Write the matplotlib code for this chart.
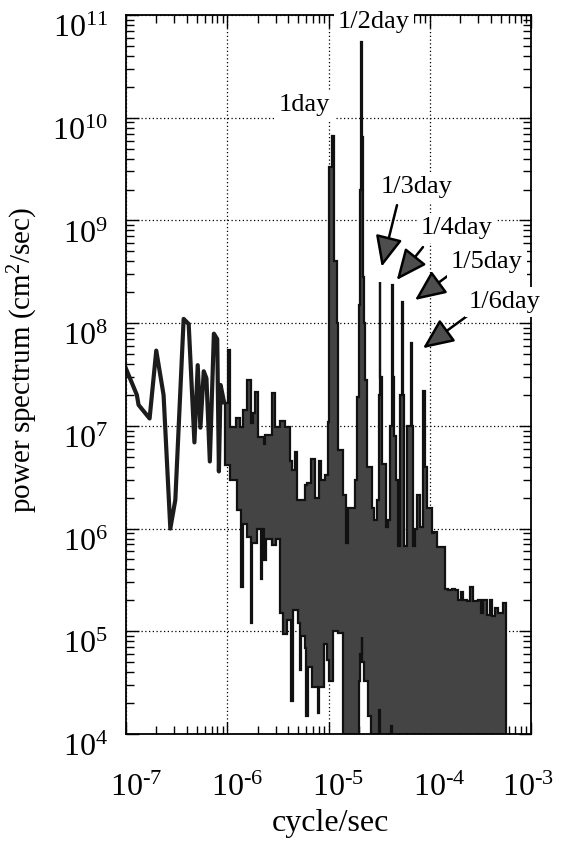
import numpy as np
import matplotlib
matplotlib.use("Agg")
import matplotlib.pyplot as plt
import matplotlib.transforms as mtransforms
from matplotlib.ticker import LogLocator, FuncFormatter, NullFormatter

# ====== data ======
# low frequency part: a single line
line_f = [1.0e-7, 1.28e-7, 1.33e-7, 1.71e-7, 1.99e-7, 2.35e-7, 2.74e-7, 3.07e-7,
          3.71e-7, 4.16e-7, 4.74e-7, 5.11e-7, 5.43e-7, 5.86e-7, 6.23e-7, 6.73e-7,
          7.38e-7, 7.96e-7, 8.27e-7, 8.59e-7, 9.3e-7]
line_p = [3.6e7, 2.0e7, 1.6e7, 1.18e7, 5.4e7, 2.0e7, 1.0e6, 1.9e6,
          1.1e8, 9.8e7, 6.9e6, 3.9e7, 9.6e6, 3.4e7, 2.9e7, 4.5e6,
          7.9e7, 7.0e7, 3.6e6, 2.5e7, 1.7e7]

# dense part, upper envelope (level starting at each frequency)
upper_f = [9.3e-7, 1.01e-6, 1.07e-6, 1.22e-6, 1.35e-6, 1.42e-6, 1.55e-6, 1.70e-6,
           1.80e-6, 1.89e-6, 2.01e-6, 2.29e-6, 2.38e-6, 2.77e-6, 2.94e-6, 3.34e-6,
           3.69e-6, 4.14e-6, 4.37e-6, 4.64e-6, 4.89e-6, 5.82e-6, 6.18e-6, 6.77e-6,
           7.30e-6, 8.00e-6, 8.50e-6, 9.16e-6, 9.80e-6, 1.00e-5, 1.02e-5, 1.09e-5,
           1.13e-5, 1.20e-5, 1.23e-5, 1.25e-5, 1.40e-5, 1.49e-5, 1.57e-5, 1.83e-5,
           1.93e-5, 2.00e-5, 2.05e-5, 2.09e-5, 2.13e-5, 2.18e-5, 2.22e-5, 2.30e-5,
           2.42e-5, 2.67e-5, 2.81e-5, 2.99e-5, 3.12e-5, 3.20e-5, 3.26e-5, 3.35e-5,
           3.70e-5, 3.90e-5, 4.05e-5, 4.22e-5, 4.28e-5, 4.34e-5, 4.45e-5, 4.60e-5,
           4.90e-5, 5.08e-5, 5.35e-5, 5.42e-5, 5.55e-5, 6.00e-5, 6.50e-5, 6.62e-5,
           6.78e-5, 7.15e-5, 7.50e-5, 8.01e-5, 8.50e-5, 9.00e-5, 9.46e-5, 1.045e-4,
           1.10e-4, 1.19e-4, 1.41e-4, 1.53e-4, 1.64e-4, 1.77e-4, 1.89e-4, 2.02e-4,
           2.15e-4, 2.32e-4, 2.50e-4, 2.65e-4, 3.02e-4, 3.18e-4, 3.38e-4, 3.65e-4,
           3.94e-4, 4.15e-4, 4.41e-4, 4.75e-4, 5.25e-4, 5.66e-4]
upper_p = [1.66e7, 5.5e7, 9.8e6, 1.18e7, 9.8e6, 1.43e7, 2.8e7, 1.06e7,
           1.32e7, 2.15e7, 7.8e6, 6.7e6, 8.1e6, 2.07e7, 9.8e6, 1.12e7,
           9.7e6, 4.5e6, 3.7e6, 5.6e6, 1.9e6, 2.65e6, 2.75e6, 4.8e6,
           2.0e6, 4.5e6, 3.0e6, 3.3e6, 1.1e7, 1.0e8, 3.3e9, 6.6e9,
           4.0e8, 1.0e8, 1.1e7, 5.8e6, 2.1e6, 7.2e5, 1.57e6, 2.97e6,
           1.9e7, 1.5e8, 2.0e9, 5.5e10, 6.5e9, 2.8e8, 1.0e8, 2.8e7,
           4.0e6, 1.6e6, 1.2e6, 1.9e6, 2.0e7, 2.5e8, 3.0e7, 4.3e6,
           1.04e6, 1.2e6, 1.0e7, 3.0e7, 2.35e8, 3.0e7, 8.0e6, 3.0e6,
           6.8e5, 2.0e7, 1.6e8, 2.0e7, 6.7e5, 1.0e7, 6.4e7, 1.0e7,
           6.7e5, 1.0e6, 2.1e6, 1.04e6, 2.2e7, 4.0e6, 1.6e6, 9.0e5,
           9.2e5, 6.6e5, 2.6e5, 2.5e5, 2.6e5, 2.5e5, 2.0e5, 2.4e5,
           2.0e5, 1.95e5, 2.7e5, 1.95e5, 2.0e5, 1.5e5, 2.0e5, 1.45e5,
           2.0e5, 1.4e5, 1.7e5, 1.5e5, 1.9e5, 1.9e5]

# dense part, lower envelope (1e3 = below the axis)
lower_f = [9.3e-7, 9.6e-7, 1.07e-6, 1.25e-6, 1.38e-6, 1.42e-6, 1.55e-6, 1.70e-6,
           1.75e-6, 1.95e-6, 2.14e-6, 2.20e-6, 2.32e-6, 2.40e-6, 2.75e-6, 3.05e-6,
           3.35e-6, 3.55e-6, 3.85e-6, 4.30e-6, 4.45e-6, 4.95e-6, 5.25e-6, 5.40e-6,
           5.85e-6, 6.05e-6, 6.25e-6, 6.90e-6, 7.80e-6, 8.10e-6, 9.00e-6, 9.60e-6,
           1.02e-5, 1.12e-5, 1.25e-5, 1.38e-5, 1.98e-5, 2.06e-5, 2.12e-5, 2.16e-5,
           2.25e-5, 2.45e-5, 2.60e-5, 3.18e-5, 3.24e-5, 4.18e-5, 4.24e-5, 5.66e-4]
lower_p = [1.7e7, 4.2e6, 3.0e6, 1.5e6, 2.7e5, 1.1e6, 8.3e5, 1.2e5,
           7.2e5, 1.0e6, 3.2e5, 1.0e6, 4.9e5, 8.0e5, 6.9e5, 8.0e5,
           1.5e5, 9.5e4, 1.3e5, 2.1e4, 1.6e5, 1.2e5, 4.2e4, 9.0e4,
           6.9e4, 1.5e4, 4.5e4, 2.9e4, 1.6e4, 2.9e4, 7.6e4, 5.2e4,
           3.3e4, 1.0e5, 9.6e4, 1e3, 3.3e4, 6.0e4, 8.8e4, 5.0e4,
           3.3e4, 1.5e4, 1e3, 1.7e4, 1e3, 1.2e4, 1e3, 1e3]

labels = ["1day", "1/2day", "1/3day", "1/4day", "1/5day", "1/6day"]

# ====== layout ======
label_xy = [(5.73e-6, 1.33e10), (2.81e-5, 8.5e10), (7.48e-5, 2.11e9),
            (1.86e-4, 8.4e8), (3.67e-4, 3.9e8), (5.53e-4, 1.6e8)]
arrow_tip = [(3.35e-5, 3.54e8), (4.72e-5, 2.63e8), (7.15e-5, 1.68e8), (8.57e-5, 5.7e7)]
arrow_tail = [(4.75e-5, 1.41e9), (8.57e-5, 5.5e8), (1.70e-4, 3.15e8), (2.99e-4, 1.40e8)]


def poststep(f, p):
    # spectrum is drawn as steps like the original plot
    f = np.asarray(f)
    p = np.asarray(p)
    return np.repeat(f, 2)[1:], np.repeat(p, 2)[:-1]


plt.rcParams['font.family'] = ['Liberation Serif', 'DejaVu Serif']
plt.rcParams['mathtext.fontset'] = 'custom'
plt.rcParams['mathtext.rm'] = 'Liberation Serif'
plt.rcParams['mathtext.it'] = 'Liberation Serif:italic'

fig = plt.figure(figsize=(5.63, 8.41), dpi=100)
ax = fig.add_axes([126 / 563, 1 - 734 / 841, 405 / 563, 719 / 841])

ax.plot(line_f, line_p, color='#1c1c1c', lw=3.0)
uf, up = poststep(upper_f, upper_p)
lf, lp = poststep(lower_f, lower_p)
ax.fill(np.concatenate([uf, lf[::-1]]), np.concatenate([up, lp[::-1]]),
        facecolor='#444444', edgecolor='#111111', lw=1.6)

ax.set_xscale('log')
ax.set_yscale('log')
ax.set_xlim(1e-7, 1e-3)
ax.set_ylim(1e4, 1e11)

ax.xaxis.set_major_locator(LogLocator(base=10, numticks=10))
ax.yaxis.set_major_locator(LogLocator(base=10, numticks=12))
ax.xaxis.set_minor_locator(LogLocator(base=10, subs=np.arange(2, 10), numticks=20))
ax.yaxis.set_minor_locator(LogLocator(base=10, subs=np.arange(2, 10), numticks=20))
ax.xaxis.set_minor_formatter(NullFormatter())
ax.yaxis.set_minor_formatter(NullFormatter())


def fmt(v, pos):
    e = int(round(np.log10(v)))
    if e < 0:
        return r'$10^{\text{-}%d}$' % (-e)
    return r'$10^{%d}$' % e


ax.xaxis.set_major_formatter(FuncFormatter(fmt))
ax.yaxis.set_major_formatter(FuncFormatter(fmt))

ax.tick_params(which='both', direction='in', top=True, right=True, width=1.0)
ax.tick_params(which='major', length=9, labelsize=23)
ax.tick_params(which='minor', length=5.5)
ax.tick_params(axis='x', which='major', pad=29)
ax.tick_params(axis='y', which='major', pad=13)
for s in ax.spines.values():
    s.set_linewidth(1.3)

ax.set_axisbelow(True)
ax.grid(which='major', color='k', ls=(0, (1, 2)), lw=0.9)

ax.set_xlabel('cycle/sec', fontsize=23)
ax.set_ylabel('power spectrum (cm$^2$/sec)', fontsize=21)
ax.xaxis.set_label_coords(0.504, -0.104)
ax.yaxis.set_label_coords(-0.212, 0.52)

for txt, (x, y) in zip(labels, label_xy):
    ax.text(x, y, txt, ha='center', va='center', fontsize=19, zorder=6, clip_on=False,
            bbox=dict(fc='white', ec='none', pad=3))

for tip, tail in zip(arrow_tip, arrow_tail):
    ax.annotate('', xy=tip, xytext=tail, zorder=5,
                arrowprops=dict(arrowstyle='-|>,head_length=0.9,head_width=0.4',
                                mutation_scale=21, fc='#4d4d4d', ec='k', lw=1.8,
                                shrinkA=0, shrinkB=0))

fig.canvas.draw()
for lbl in ax.get_xticklabels():
    x = lbl.get_position()[0]
    if x < 0.99e-7 or x > 1.01e-3:
        lbl.set_visible(False)
    # the 1e-3 label is pulled back so it stays inside the figure
    shift = -2.5 if x > 5e-4 else 7
    lbl.set_transform(lbl.get_transform() +
                      mtransforms.ScaledTranslation(shift / 72, 0, fig.dpi_scale_trans))
for lbl in ax.get_yticklabels():
    y = lbl.get_position()[1]
    if y < 0.99e4 or y > 1.01e11:
        lbl.set_visible(False)
    lbl.set_va('top')

fig.savefig('out.png', dpi=100)
